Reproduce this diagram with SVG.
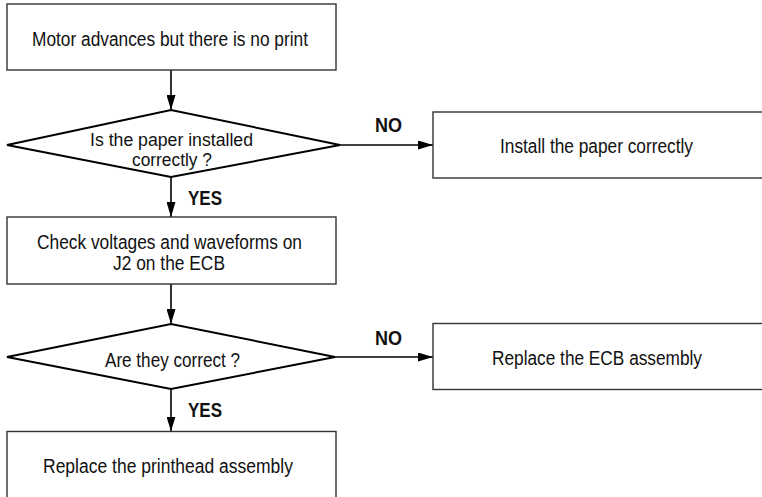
<svg xmlns="http://www.w3.org/2000/svg" width="762" height="497" viewBox="0 0 762 497">
<style>
.box{fill:#fff;stroke:#333;stroke-width:1.4}
.dia{fill:#fff;stroke:#000;stroke-width:2}
.t{font-family:"Liberation Sans",Arial,sans-serif;font-size:20px;fill:#111}
.td{font-family:"Liberation Sans",Arial,sans-serif;font-size:17.5px;fill:#111}
.lbl{font-family:"Liberation Sans",Arial,sans-serif;font-size:20px;font-weight:bold;fill:#111}
.con{stroke:#000;stroke-width:1.6;fill:none}
</style>
<defs>
<marker id="ah" markerUnits="userSpaceOnUse" markerWidth="15" markerHeight="9" refX="15" refY="4.5" orient="auto">
<path d="M0,0 L15,4.5 L0,9 z" fill="#000"/>
</marker>
</defs>
<rect width="762" height="497" fill="#fff"/>
<g id="connectors">
<line class="con" x1="171" y1="70" x2="171" y2="110" marker-end="url(#ah)"/>
<line class="con" x1="171" y1="177" x2="171" y2="217" marker-end="url(#ah)"/>
<line class="con" x1="171" y1="284" x2="171" y2="324" marker-end="url(#ah)"/>
<line class="con" x1="171" y1="389" x2="171" y2="431.5" marker-end="url(#ah)"/>
<line class="con" x1="340" y1="145" x2="433" y2="145" marker-end="url(#ah)"/>
<line class="con" x1="335" y1="357" x2="433" y2="357" marker-end="url(#ah)"/>
<text class="lbl" x="188" y="205" textLength="34" lengthAdjust="spacingAndGlyphs">YES</text>
<text class="lbl" x="188" y="417" textLength="34" lengthAdjust="spacingAndGlyphs">YES</text>
<text class="lbl" x="375" y="131.5" textLength="27" lengthAdjust="spacingAndGlyphs">NO</text>
<text class="lbl" x="375" y="345" textLength="27" lengthAdjust="spacingAndGlyphs">NO</text>
</g>
<g id="start">
<rect class="box" x="7" y="4" width="329" height="66"/>
<text class="t" x="32" y="46" textLength="276" lengthAdjust="spacingAndGlyphs">Motor advances but there is no print</text>
</g>
<g id="paper-check">
<polygon class="dia" points="7,145 171,110 340,145 171,177"/>
<text class="td" x="90" y="146" textLength="163" lengthAdjust="spacingAndGlyphs">Is the paper installed</text>
<text class="td" x="132" y="165.5" textLength="80" lengthAdjust="spacingAndGlyphs">correctly ?</text>
</g>
<g id="install-paper">
<rect class="box" x="433" y="112" width="340" height="66"/>
<text class="t" x="500" y="153" textLength="193" lengthAdjust="spacingAndGlyphs">Install the paper correctly</text>
</g>
<g id="check-voltages">
<rect class="box" x="7" y="217" width="329" height="67"/>
<text class="t" x="37" y="249" textLength="265" lengthAdjust="spacingAndGlyphs">Check voltages and waveforms on</text>
<text class="t" x="113" y="270" textLength="112" lengthAdjust="spacingAndGlyphs">J2 on the ECB</text>
</g>
<g id="correct-check">
<polygon class="dia" points="7,357 171,324 335,357 171,389"/>
<text class="t" x="105" y="367" textLength="135" lengthAdjust="spacingAndGlyphs">Are they correct ?</text>
</g>
<g id="replace-ecb">
<rect class="box" x="433" y="323.5" width="340" height="66"/>
<text class="t" x="492" y="365" textLength="210" lengthAdjust="spacingAndGlyphs">Replace the ECB assembly</text>
</g>
<g id="replace-printhead">
<rect class="box" x="7" y="431.5" width="329" height="80"/>
<text class="t" x="43" y="473" textLength="250" lengthAdjust="spacingAndGlyphs">Replace the printhead assembly</text>
</g>
</svg>
